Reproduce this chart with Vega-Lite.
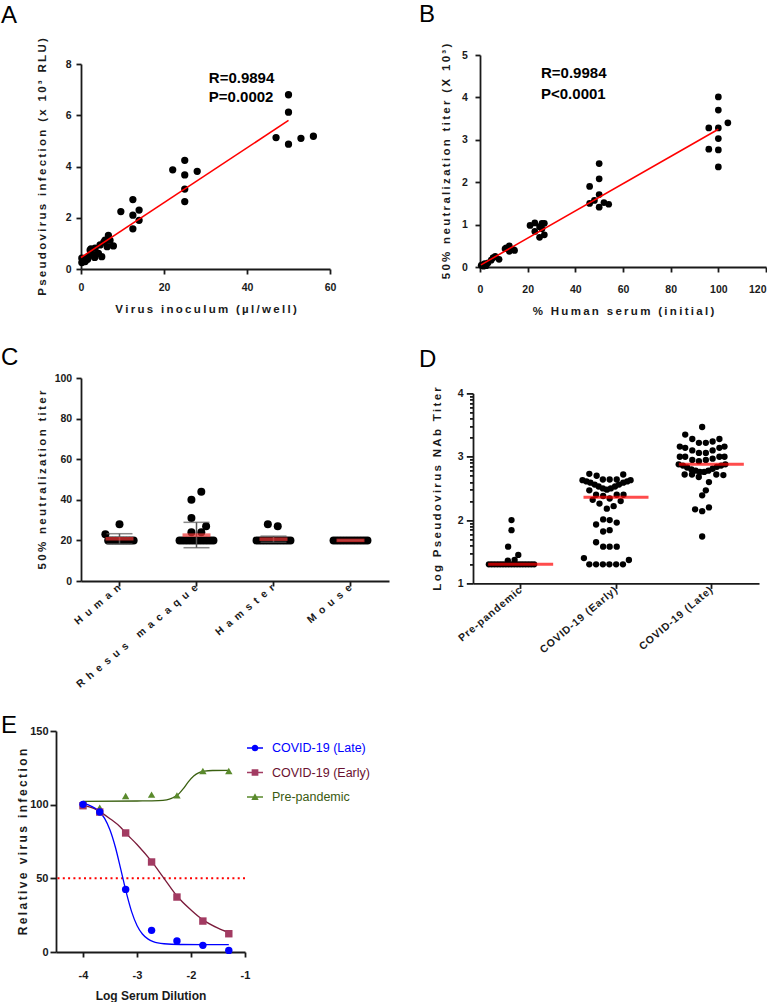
{
  "$schema": "https://vega.github.io/schema/vega-lite/v6.json",
  "padding": {"left": 1, "top": 3, "right": 0, "bottom": 0},
  "background": "white",
  "datasets": {
    "a": [{"inoculum":0.2,"infection":0.25},{"inoculum":0.2,"infection":0.42},{"inoculum":0.55,"infection":0.35},{"inoculum":1.0,"infection":0.29},{"inoculum":1.6,"infection":0.38},{"inoculum":1.8,"infection":0.48},{"inoculum":2.2,"infection":0.74},{"inoculum":2.4,"infection":0.78},{"inoculum":3.0,"infection":0.55},{"inoculum":3.3,"infection":0.45},{"inoculum":3.4,"infection":0.81},{"inoculum":4.2,"infection":0.61},{"inoculum":4.6,"infection":0.94},{"inoculum":5.0,"infection":0.48},{"inoculum":5.5,"infection":1.05},{"inoculum":5.8,"infection":1.13},{"inoculum":6.3,"infection":0.87},{"inoculum":6.6,"infection":1.31},{"inoculum":7.0,"infection":1.12},{"inoculum":7.8,"infection":0.9},{"inoculum":9.6,"infection":2.24},{"inoculum":12.5,"infection":2.71},{"inoculum":12.5,"infection":2.1},{"inoculum":12.5,"infection":1.57},{"inoculum":14,"infection":2.3},{"inoculum":14,"infection":1.9},{"inoculum":22.1,"infection":3.87},{"inoculum":25,"infection":4.24},{"inoculum":25,"infection":3.67},{"inoculum":25,"infection":3.12},{"inoculum":25,"infection":2.63},{"inoculum":28,"infection":3.81},{"inoculum":47,"infection":5.13},{"inoculum":50,"infection":6.8},{"inoculum":50,"infection":6.12},{"inoculum":50,"infection":4.87},{"inoculum":53,"infection":5.1},{"inoculum":56,"infection":5.18}],
    "a_fit": [{"inoculum":0,"infection":0.45},{"inoculum":50,"infection":5.8}],
    "b": [{"serum":100,"titer":4.01},{"serum":100,"titer":3.7},{"serum":104,"titer":3.4},{"serum":96,"titer":3.28},{"serum":100,"titer":3.28},{"serum":100,"titer":3.03},{"serum":96,"titer":2.78},{"serum":100,"titer":2.76},{"serum":100,"titer":2.36},{"serum":50,"titer":2.44},{"serum":50,"titer":2.08},{"serum":46,"titer":1.9},{"serum":50,"titer":1.71},{"serum":48,"titer":1.57},{"serum":46,"titer":1.5},{"serum":52,"titer":1.52},{"serum":54,"titer":1.48},{"serum":50,"titer":1.41},{"serum":21,"titer":0.98},{"serum":23,"titer":1.04},{"serum":26,"titer":1.03},{"serum":27,"titer":1.03},{"serum":23,"titer":0.84},{"serum":25,"titer":0.7},{"serum":27,"titer":0.76},{"serum":26,"titer":0.9},{"serum":25,"titer":0.95},{"serum":10.5,"titer":0.43},{"serum":12.3,"titer":0.5},{"serum":12.3,"titer":0.37},{"serum":14,"titer":0.41},{"serum":14.5,"titer":0.39},{"serum":11,"titer":0.45},{"serum":6.4,"titer":0.25},{"serum":8,"titer":0.18},{"serum":4.7,"titer":0.16},{"serum":5.5,"titer":0.22},{"serum":3.4,"titer":0.1},{"serum":2,"titer":0.08},{"serum":1,"titer":0.05},{"serum":0.5,"titer":0.04},{"serum":2.6,"titer":0.03},{"serum":1.5,"titer":0.02}],
    "b_fit": [{"serum":0.4,"titer":0.05},{"serum":100,"titer":3.25}],
    "c_pts": [
      {"species":"Human","titer":20,"slot":-4},{"species":"Human","titer":20,"slot":-3},{"species":"Human","titer":20,"slot":-2},{"species":"Human","titer":20,"slot":-1},{"species":"Human","titer":20,"slot":0},{"species":"Human","titer":20,"slot":1},{"species":"Human","titer":20,"slot":2},{"species":"Human","titer":20,"slot":3},{"species":"Human","titer":20,"slot":4},{"species":"Human","titer":20,"slot":5},{"species":"Human","titer":23,"slot":-5},{"species":"Human","titer":28,"slot":0},
      {"species":"Rhesus macaque","titer":20,"slot":-6},{"species":"Rhesus macaque","titer":20,"slot":-5},{"species":"Rhesus macaque","titer":20,"slot":-4},{"species":"Rhesus macaque","titer":20,"slot":-3},{"species":"Rhesus macaque","titer":20,"slot":-2},{"species":"Rhesus macaque","titer":20,"slot":-1},{"species":"Rhesus macaque","titer":20,"slot":0},{"species":"Rhesus macaque","titer":20,"slot":1},{"species":"Rhesus macaque","titer":20,"slot":2},{"species":"Rhesus macaque","titer":20,"slot":3},{"species":"Rhesus macaque","titer":20,"slot":4},{"species":"Rhesus macaque","titer":20,"slot":5},{"species":"Rhesus macaque","titer":20,"slot":6},{"species":"Rhesus macaque","titer":24,"slot":-1.8},{"species":"Rhesus macaque","titer":24,"slot":1.7},{"species":"Rhesus macaque","titer":27,"slot":3.4},{"species":"Rhesus macaque","titer":31,"slot":-1.8},{"species":"Rhesus macaque","titer":40,"slot":-1.8},{"species":"Rhesus macaque","titer":44,"slot":1.7},
      {"species":"Hamster","titer":20,"slot":-6},{"species":"Hamster","titer":20,"slot":-5},{"species":"Hamster","titer":20,"slot":-4},{"species":"Hamster","titer":20,"slot":-3},{"species":"Hamster","titer":20,"slot":-2},{"species":"Hamster","titer":20,"slot":-1},{"species":"Hamster","titer":20,"slot":0},{"species":"Hamster","titer":20,"slot":1},{"species":"Hamster","titer":20,"slot":2},{"species":"Hamster","titer":20,"slot":3},{"species":"Hamster","titer":20,"slot":4},{"species":"Hamster","titer":20,"slot":5},{"species":"Hamster","titer":20,"slot":6},{"species":"Hamster","titer":28,"slot":-2},{"species":"Hamster","titer":27,"slot":1.5},
      {"species":"Mouse","titer":20,"slot":-6},{"species":"Mouse","titer":20,"slot":-5},{"species":"Mouse","titer":20,"slot":-4},{"species":"Mouse","titer":20,"slot":-3},{"species":"Mouse","titer":20,"slot":-2},{"species":"Mouse","titer":20,"slot":-1},{"species":"Mouse","titer":20,"slot":0},{"species":"Mouse","titer":20,"slot":1},{"species":"Mouse","titer":20,"slot":2},{"species":"Mouse","titer":20,"slot":3},{"species":"Mouse","titer":20,"slot":4},{"species":"Mouse","titer":20,"slot":5},{"species":"Mouse","titer":20,"slot":6}
    ],
    "c_sum": [{"species":"Human","mean":20.8,"lo":18.3,"hi":23.3},{"species":"Rhesus macaque","mean":22.6,"lo":16.4,"hi":28.9},{"species":"Hamster","mean":20.6,"lo":19.1,"hi":22.1},{"species":"Mouse","mean":20,"lo":20,"hi":20}],
    "d_pts": [
      {"group":"Pre-pandemic","log_titer":1.301,"slot":-8},{"group":"Pre-pandemic","log_titer":1.301,"slot":-7},{"group":"Pre-pandemic","log_titer":1.301,"slot":-6},{"group":"Pre-pandemic","log_titer":1.301,"slot":-5},{"group":"Pre-pandemic","log_titer":1.301,"slot":-4},{"group":"Pre-pandemic","log_titer":1.301,"slot":-3},{"group":"Pre-pandemic","log_titer":1.301,"slot":-2},{"group":"Pre-pandemic","log_titer":1.301,"slot":-1},{"group":"Pre-pandemic","log_titer":1.301,"slot":0},{"group":"Pre-pandemic","log_titer":1.301,"slot":1},{"group":"Pre-pandemic","log_titer":1.301,"slot":2},{"group":"Pre-pandemic","log_titer":1.301,"slot":3},{"group":"Pre-pandemic","log_titer":1.301,"slot":4},{"group":"Pre-pandemic","log_titer":1.301,"slot":5},{"group":"Pre-pandemic","log_titer":1.301,"slot":6},{"group":"Pre-pandemic","log_titer":1.301,"slot":7},{"group":"Pre-pandemic","log_titer":1.301,"slot":8},
      {"group":"Pre-pandemic","log_titer":1.36,"slot":-1.3},{"group":"Pre-pandemic","log_titer":1.37,"slot":1.1},{"group":"Pre-pandemic","log_titer":1.45,"slot":2.4},{"group":"Pre-pandemic","log_titer":1.58,"slot":-1.2},{"group":"Pre-pandemic","log_titer":1.84,"slot":0},{"group":"Pre-pandemic","log_titer":2.0,"slot":0},
      {"group":"COVID-19 (Early)","log_titer":1.301,"slot":-6.2},{"group":"COVID-19 (Early)","log_titer":1.301,"slot":-3.8},{"group":"COVID-19 (Early)","log_titer":1.301,"slot":-1.4},{"group":"COVID-19 (Early)","log_titer":1.301,"slot":0.9},{"group":"COVID-19 (Early)","log_titer":1.301,"slot":3.3},{"group":"COVID-19 (Early)","log_titer":1.301,"slot":5.7},
      {"group":"COVID-19 (Early)","log_titer":1.4,"slot":-8.1},{"group":"COVID-19 (Early)","log_titer":1.37,"slot":7.8},
      {"group":"COVID-19 (Early)","log_titer":1.65,"slot":-3.8},{"group":"COVID-19 (Early)","log_titer":1.58,"slot":-1.3},{"group":"COVID-19 (Early)","log_titer":1.58,"slot":1},{"group":"COVID-19 (Early)","log_titer":1.58,"slot":3.5},
      {"group":"COVID-19 (Early)","log_titer":1.93,"slot":-3.8},{"group":"COVID-19 (Early)","log_titer":2.01,"slot":-1.3},{"group":"COVID-19 (Early)","log_titer":2.0,"slot":1},{"group":"COVID-19 (Early)","log_titer":1.96,"slot":3.5},{"group":"COVID-19 (Early)","log_titer":1.82,"slot":-1.3},{"group":"COVID-19 (Early)","log_titer":1.84,"slot":1},
      {"group":"COVID-19 (Early)","log_titer":2.18,"slot":0},{"group":"COVID-19 (Early)","log_titer":2.22,"slot":2.4},{"group":"COVID-19 (Early)","log_titer":2.26,"slot":-2.6},{"group":"COVID-19 (Early)","log_titer":2.3,"slot":4.9},{"group":"COVID-19 (Early)","log_titer":2.32,"slot":-5},{"group":"COVID-19 (Early)","log_titer":2.34,"slot":1},{"group":"COVID-19 (Early)","log_titer":2.38,"slot":-1.3},{"group":"COVID-19 (Early)","log_titer":2.4,"slot":-3.8},{"group":"COVID-19 (Early)","log_titer":2.4,"slot":3.5},{"group":"COVID-19 (Early)","log_titer":2.4,"slot":5.9},{"group":"COVID-19 (Early)","log_titer":2.47,"slot":-6.2},
      {"group":"COVID-19 (Early)","log_titer":2.63,"slot":-8.6},{"group":"COVID-19 (Early)","log_titer":2.61,"slot":-7.2},{"group":"COVID-19 (Early)","log_titer":2.59,"slot":-5.8},{"group":"COVID-19 (Early)","log_titer":2.56,"slot":-4.3},{"group":"COVID-19 (Early)","log_titer":2.53,"slot":-2.9},{"group":"COVID-19 (Early)","log_titer":2.5,"slot":-1.4},{"group":"COVID-19 (Early)","log_titer":2.48,"slot":0},{"group":"COVID-19 (Early)","log_titer":2.5,"slot":1.4},{"group":"COVID-19 (Early)","log_titer":2.53,"slot":2.9},{"group":"COVID-19 (Early)","log_titer":2.56,"slot":4.3},{"group":"COVID-19 (Early)","log_titer":2.59,"slot":5.8},{"group":"COVID-19 (Early)","log_titer":2.61,"slot":7.2},{"group":"COVID-19 (Early)","log_titer":2.63,"slot":8.4},
      {"group":"COVID-19 (Early)","log_titer":2.73,"slot":-6.2},{"group":"COVID-19 (Early)","log_titer":2.7,"slot":-3.6},{"group":"COVID-19 (Early)","log_titer":2.64,"slot":-1.4},{"group":"COVID-19 (Early)","log_titer":2.64,"slot":1},{"group":"COVID-19 (Early)","log_titer":2.64,"slot":3.5},{"group":"COVID-19 (Early)","log_titer":2.72,"slot":5.8},
      {"group":"COVID-19 (Late)","log_titer":3.47,"slot":0},
      {"group":"COVID-19 (Late)","log_titer":3.35,"slot":-6},{"group":"COVID-19 (Late)","log_titer":3.28,"slot":-3.5},{"group":"COVID-19 (Late)","log_titer":3.22,"slot":-1.15},{"group":"COVID-19 (Late)","log_titer":3.22,"slot":1.3},{"group":"COVID-19 (Late)","log_titer":3.24,"slot":3.7},{"group":"COVID-19 (Late)","log_titer":3.28,"slot":6.1},
      {"group":"COVID-19 (Late)","log_titer":3.16,"slot":-7.9},{"group":"COVID-19 (Late)","log_titer":3.14,"slot":-6},{"group":"COVID-19 (Late)","log_titer":3.1,"slot":-3.5},{"group":"COVID-19 (Late)","log_titer":3.06,"slot":-1.15},{"group":"COVID-19 (Late)","log_titer":3.06,"slot":1.3},{"group":"COVID-19 (Late)","log_titer":3.1,"slot":3.7},{"group":"COVID-19 (Late)","log_titer":3.14,"slot":6.1},{"group":"COVID-19 (Late)","log_titer":3.16,"slot":7.9},
      {"group":"COVID-19 (Late)","log_titer":3.0,"slot":-7.9},{"group":"COVID-19 (Late)","log_titer":3.0,"slot":-6},{"group":"COVID-19 (Late)","log_titer":2.95,"slot":-3.5},{"group":"COVID-19 (Late)","log_titer":2.93,"slot":-1.15},{"group":"COVID-19 (Late)","log_titer":2.95,"slot":1.3},{"group":"COVID-19 (Late)","log_titer":2.97,"slot":3.7},{"group":"COVID-19 (Late)","log_titer":3.0,"slot":6.1},{"group":"COVID-19 (Late)","log_titer":3.0,"slot":7.9},
      {"group":"COVID-19 (Late)","log_titer":2.88,"slot":-8.3},{"group":"COVID-19 (Late)","log_titer":2.86,"slot":-6.8},{"group":"COVID-19 (Late)","log_titer":2.83,"slot":-5.3},{"group":"COVID-19 (Late)","log_titer":2.8,"slot":-3.8},{"group":"COVID-19 (Late)","log_titer":2.78,"slot":-2.3},{"group":"COVID-19 (Late)","log_titer":2.76,"slot":-0.8},{"group":"COVID-19 (Late)","log_titer":2.76,"slot":0.7},{"group":"COVID-19 (Late)","log_titer":2.78,"slot":2.2},{"group":"COVID-19 (Late)","log_titer":2.81,"slot":3.7},{"group":"COVID-19 (Late)","log_titer":2.84,"slot":5.2},{"group":"COVID-19 (Late)","log_titer":2.86,"slot":6.7},{"group":"COVID-19 (Late)","log_titer":2.88,"slot":8.2},
      {"group":"COVID-19 (Late)","log_titer":2.72,"slot":-6.2},{"group":"COVID-19 (Late)","log_titer":2.72,"slot":-3.6},{"group":"COVID-19 (Late)","log_titer":2.68,"slot":-1.2},{"group":"COVID-19 (Late)","log_titer":2.6,"slot":2.4},{"group":"COVID-19 (Late)","log_titer":2.72,"slot":5},{"group":"COVID-19 (Late)","log_titer":2.71,"slot":7.5},
      {"group":"COVID-19 (Late)","log_titer":2.47,"slot":1.3},{"group":"COVID-19 (Late)","log_titer":2.39,"slot":0},{"group":"COVID-19 (Late)","log_titer":2.2,"slot":2.4},{"group":"COVID-19 (Late)","log_titer":2.17,"slot":-2.5},{"group":"COVID-19 (Late)","log_titer":2.14,"slot":0},{"group":"COVID-19 (Late)","log_titer":1.74,"slot":0}
    ],
    "d_sum": [{"group":"Pre-pandemic","mean":1.301},{"group":"COVID-19 (Early)","mean":2.36},{"group":"COVID-19 (Late)","mean":2.88}],
    "e_pts": [
      {"series":"Pre-pandemic","log_dilution":-4,"infection":100.5},{"series":"Pre-pandemic","log_dilution":-3.69,"infection":98},{"series":"Pre-pandemic","log_dilution":-3.21,"infection":105.9},{"series":"Pre-pandemic","log_dilution":-2.73,"infection":106.8},{"series":"Pre-pandemic","log_dilution":-2.26,"infection":106.3},{"series":"Pre-pandemic","log_dilution":-1.78,"infection":122.8},{"series":"Pre-pandemic","log_dilution":-1.3,"infection":122.8},
      {"series":"COVID-19 (Early)","log_dilution":-4,"infection":99.3},{"series":"COVID-19 (Early)","log_dilution":-3.69,"infection":95},{"series":"COVID-19 (Early)","log_dilution":-3.21,"infection":80.8},{"series":"COVID-19 (Early)","log_dilution":-2.73,"infection":61.1},{"series":"COVID-19 (Early)","log_dilution":-2.26,"infection":37.3},{"series":"COVID-19 (Early)","log_dilution":-1.78,"infection":21},{"series":"COVID-19 (Early)","log_dilution":-1.3,"infection":12.4},
      {"series":"COVID-19 (Late)","log_dilution":-4,"infection":100.2},{"series":"COVID-19 (Late)","log_dilution":-3.69,"infection":95},{"series":"COVID-19 (Late)","log_dilution":-3.21,"infection":42.5},{"series":"COVID-19 (Late)","log_dilution":-2.73,"infection":14.7},{"series":"COVID-19 (Late)","log_dilution":-2.26,"infection":7.5},{"series":"COVID-19 (Late)","log_dilution":-1.78,"infection":4.5},{"series":"COVID-19 (Late)","log_dilution":-1.3,"infection":1.1}
    ],
    "e_fit": [
      {"series":"Pre-pandemic","log_dilution":-4,"infection":102.3},{"series":"Pre-pandemic","log_dilution":-3.0,"infection":102.5},{"series":"Pre-pandemic","log_dilution":-2.6,"infection":102.7},{"series":"Pre-pandemic","log_dilution":-2.45,"infection":103.3},{"series":"Pre-pandemic","log_dilution":-2.35,"infection":104.5},{"series":"Pre-pandemic","log_dilution":-2.25,"infection":106.5},{"series":"Pre-pandemic","log_dilution":-2.15,"infection":110.5},{"series":"Pre-pandemic","log_dilution":-2.05,"infection":115.5},{"series":"Pre-pandemic","log_dilution":-1.95,"infection":119.5},{"series":"Pre-pandemic","log_dilution":-1.85,"infection":121.8},{"series":"Pre-pandemic","log_dilution":-1.75,"infection":122.8},{"series":"Pre-pandemic","log_dilution":-1.6,"infection":123.2},{"series":"Pre-pandemic","log_dilution":-1.3,"infection":123.3},
      {"series":"COVID-19 (Early)","log_dilution":-4,"infection":99.5},{"series":"COVID-19 (Early)","log_dilution":-3.8,"infection":97.5},{"series":"COVID-19 (Early)","log_dilution":-3.69,"infection":95.3},{"series":"COVID-19 (Early)","log_dilution":-3.5,"infection":90.5},{"series":"COVID-19 (Early)","log_dilution":-3.3,"infection":84.5},{"series":"COVID-19 (Early)","log_dilution":-3.21,"infection":80.8},{"series":"COVID-19 (Early)","log_dilution":-3.0,"infection":73},{"series":"COVID-19 (Early)","log_dilution":-2.73,"infection":61.5},{"series":"COVID-19 (Early)","log_dilution":-2.5,"infection":50},{"series":"COVID-19 (Early)","log_dilution":-2.26,"infection":38},{"series":"COVID-19 (Early)","log_dilution":-2.0,"infection":28.5},{"series":"COVID-19 (Early)","log_dilution":-1.78,"infection":21.8},{"series":"COVID-19 (Early)","log_dilution":-1.5,"infection":16.2},{"series":"COVID-19 (Early)","log_dilution":-1.3,"infection":13.2},
      {"series":"COVID-19 (Late)","log_dilution":-4,"infection":100.8},{"series":"COVID-19 (Late)","log_dilution":-3.85,"infection":99},{"series":"COVID-19 (Late)","log_dilution":-3.7,"infection":95.4},{"series":"COVID-19 (Late)","log_dilution":-3.6,"infection":90.7},{"series":"COVID-19 (Late)","log_dilution":-3.5,"infection":82.8},{"series":"COVID-19 (Late)","log_dilution":-3.4,"infection":71.1},{"series":"COVID-19 (Late)","log_dilution":-3.3,"infection":56.1},{"series":"COVID-19 (Late)","log_dilution":-3.2,"infection":40.6},{"series":"COVID-19 (Late)","log_dilution":-3.1,"infection":27.4},{"series":"COVID-19 (Late)","log_dilution":-3.0,"infection":18},{"series":"COVID-19 (Late)","log_dilution":-2.9,"infection":12.2},{"series":"COVID-19 (Late)","log_dilution":-2.8,"infection":8.9},{"series":"COVID-19 (Late)","log_dilution":-2.7,"infection":7.0},{"series":"COVID-19 (Late)","log_dilution":-2.5,"infection":5.6},{"series":"COVID-19 (Late)","log_dilution":-2.2,"infection":5.1},{"series":"COVID-19 (Late)","log_dilution":-1.8,"infection":5.0},{"series":"COVID-19 (Late)","log_dilution":-1.3,"infection":5.0}
    ]
  },
  "concat": [
    {
      "concat": [
        {
          "vconcat": [
            {
              "width": 249, "height": 205,
              "title": {"text": "A", "offset": 10, "dx": -80},
              "layer": [
                {"data": {"name": "a"}, "mark": {"type": "point", "filled": true, "color": "#000", "size": 53, "opacity": 1},
                 "encoding": {
                   "x": {"field": "inoculum", "type": "quantitative", "scale": {"domain": [0, 60], "nice": false},
                         "axis": {"values": [0, 20, 40, 60], "title": "V\u2009i\u2009r\u2009u\u2009s\u2009 \u2009i\u2009n\u2009o\u2009c\u2009u\u2009l\u2009u\u2009m\u2009 \u2009(\u2009µ\u2009l\u2009/\u2009w\u2009e\u2009l\u2009l\u2009)", "titleY": 43, "labelPadding": 8.7}},
                   "y": {"field": "infection", "type": "quantitative", "scale": {"domain": [0, 8], "nice": false},
                         "axis": {"values": [0, 2, 4, 6, 8], "title": "P\u2009s\u2009e\u2009u\u2009d\u2009o\u2009v\u2009i\u2009r\u2009u\u2009s\u2009 \u2009i\u2009n\u2009f\u2009e\u2009c\u2009t\u2009i\u2009o\u2009n\u2009 \u2009(\u2009x\u2009 \u20091\u20090\u2009³\u2009 \u2009R\u2009L\u2009U\u2009)", "titleX": -36, "labelPadding": 5}}
                 }},
                {"data": {"name": "a_fit"}, "mark": {"type": "line", "color": "#ff0000", "strokeWidth": 1.6},
                 "encoding": {"x": {"field": "inoculum", "type": "quantitative"}, "y": {"field": "infection", "type": "quantitative"}}},
                {"data": {"values": [{}]}, "mark": {"type": "text", "text": ["R=0.9894", "P=0.0002"], "align": "left", "baseline": "alphabetic", "fontSize": 15, "fontWeight": "bold", "lineHeight": 19, "color": "#000", "font": "Liberation Sans"},
                 "encoding": {"x": {"datum": 30.8}, "y": {"datum": 7.27}}}
              ]
            },
            {
              "width": 308, "height": 203,
              "title": {"text": "C", "offset": 3, "dx": -80},
              "layer": [
                {"data": {"name": "c_pts"}, "mark": {"type": "point", "filled": true, "color": "#000", "size": 64, "opacity": 1},
                 "encoding": {
                   "x": {"field": "species", "type": "nominal", "scale": {"type": "band", "domain": ["Human", "Rhesus macaque", "Hamster", "Mouse"], "paddingInner": 0, "paddingOuter": 0},
                         "axis": {"title": null, "labelAngle": -40, "labelAlign": "right", "labelBaseline": "middle", "labelPadding": 0, "labelExpr": "join(split(datum.label, ''), '\u2002')"}},
                   "xOffset": {"field": "slot", "type": "quantitative", "scale": {"domain": [-11, 11], "range": [0, 77]}},
                   "y": {"field": "titer", "type": "quantitative", "scale": {"domain": [0, 100], "nice": false},
                         "axis": {"values": [0, 20, 40, 60, 80, 100], "title": "5\u20090\u2009%\u2009 \u2009n\u2009e\u2009u\u2009t\u2009r\u2009a\u2009l\u2009i\u2009z\u2009a\u2009t\u2009i\u2009o\u2009n\u2009 \u2009t\u2009i\u2009t\u2009e\u2009r", "titleX": -36, "labelPadding": 4.3}}
                 }},
                {"data": {"name": "c_sum"}, "mark": {"type": "rule", "color": "#555", "strokeWidth": 1.5},
                 "encoding": {"x": {"field": "species", "type": "nominal"}, "y": {"field": "lo", "type": "quantitative"}, "y2": {"field": "hi"}}},
                {"data": {"name": "c_sum"}, "mark": {"type": "tick", "color": "#555", "size": 26, "thickness": 1.5},
                 "encoding": {"x": {"field": "species", "type": "nominal"}, "y": {"field": "lo", "type": "quantitative"}}},
                {"data": {"name": "c_sum"}, "mark": {"type": "tick", "color": "#555", "size": 26, "thickness": 1.5},
                 "encoding": {"x": {"field": "species", "type": "nominal"}, "y": {"field": "hi", "type": "quantitative"}}},
                {"data": {"name": "c_sum"}, "mark": {"type": "tick", "color": "#ee3333", "size": 28, "thickness": 3.5},
                 "encoding": {"x": {"field": "species", "type": "nominal"}, "y": {"field": "mean", "type": "quantitative"}}}
              ]
            }
          ],
          "spacing": 109,
          "bounds": "flush"
        },
        {
          "concat": [
            {"width": 1, "height": 1, "data": {"values": []}, "mark": {"type": "point"}},
            {
              "width": 189, "height": 221,
              "title": {"text": "E", "offset": -13, "dx": -55},
              "layer": [
                {"data": {"values": [{}]}, "mark": {"type": "rule", "color": "#ff0000", "strokeDash": [2, 3.3], "strokeWidth": 2},
                 "encoding": {"y": {"datum": 50}}},
                {"data": {"name": "e_fit"}, "mark": {"type": "line", "strokeWidth": 1.3, "interpolate": "monotone"},
                 "encoding": {
                   "x": {"field": "log_dilution", "type": "quantitative", "scale": {"domain": [-4.5, -1], "nice": false},
                         "axis": {"values": [-4, -3, -2, -1], "title": "Log Serum Dilution", "titleFontSize": 12, "titleY": 47.2, "labelPadding": 12, "labelFontSize": 11, "labelExpr": "'-' + abs(datum.value)"}},
                   "y": {"field": "infection", "type": "quantitative", "scale": {"domain": [0, 150], "nice": false},
                         "axis": {"values": [0, 50, 100, 150], "title": "R\u2009e\u2009l\u2009a\u2009t\u2009i\u2009v\u2009e\u2009 \u2009v\u2009i\u2009r\u2009u\u2009s\u2009 \u2009i\u2009n\u2009f\u2009e\u2009c\u2009t\u2009i\u2009o\u2009n", "titleFontSize": 12, "titleX": -29.5, "labelPadding": 2, "tickSize": 6, "labelFontSize": 11}},
                   "color": {"field": "series", "type": "nominal", "scale": {"domain": ["COVID-19 (Late)", "COVID-19 (Early)", "Pre-pandemic"], "range": ["#0000ff", "#7a1a3a", "#3a6010"]}, "legend": null}
                 }},
                {"data": {"name": "e_pts"}, "mark": {"type": "point", "filled": true, "size": 55, "opacity": 1},
                 "encoding": {
                   "x": {"field": "log_dilution", "type": "quantitative"},
                   "y": {"field": "infection", "type": "quantitative"},
                   "color": {"field": "series", "type": "nominal", "scale": {"domain": ["COVID-19 (Late)", "COVID-19 (Early)", "Pre-pandemic"], "range": ["#0000ff", "#a23b62", "#5a8a2c"]}, "legend": null},
                   "shape": {"field": "series", "type": "nominal", "scale": {"domain": ["COVID-19 (Late)", "COVID-19 (Early)", "Pre-pandemic"], "range": ["circle", "square", "triangle-up"]}, "legend": null}
                 }},
                {"data": {"name": "e_pts"}, "mark": {"type": "point", "filled": true, "size": 0, "opacity": 1},
                 "encoding": {
                   "x": {"field": "log_dilution", "type": "quantitative"},
                   "y": {"field": "infection", "type": "quantitative"},
                   "color": {"field": "series", "type": "nominal", "scale": {"domain": ["COVID-19 (Late)", "COVID-19 (Early)", "Pre-pandemic"], "range": ["#0000ff", "#a23b62", "#5a8a2c"]},
                             "legend": {"orient": "none", "legendX": 191, "legendY": 9, "title": null, "symbolSize": 256, "labelFontSize": 12.5, "labelFont": "Liberation Sans", "labelFontWeight": "normal", "labelOffset": 9, "rowPadding": 9.5, "padding": 0, "symbolStrokeWidth": 0,
                                        "labelColor": {"expr": "datum.label == 'COVID-19 (Late)' ? '#0000ff' : datum.label == 'COVID-19 (Early)' ? '#6a1030' : '#3a5a10'"}}},
                   "shape": {"field": "series", "type": "nominal", "scale": {"domain": ["COVID-19 (Late)", "COVID-19 (Early)", "Pre-pandemic"], "range": ["M-1,-0.09H1V0.09H-1Z M0.42,0A0.42,0.42 0 1,1 -0.42,0A0.42,0.42 0 1,1 0.42,0Z", "M-1,-0.09H1V0.09H-1Z M-0.42,-0.42H0.42V0.42H-0.42Z", "M-1,-0.09H1V0.09H-1Z M0,-0.48L0.46,0.36H-0.46Z"]},
                             "legend": {"orient": "none", "legendX": 191, "legendY": 9, "title": null, "symbolSize": 256, "labelFontSize": 12.5, "labelFont": "Liberation Sans", "labelFontWeight": "normal", "labelOffset": 9, "rowPadding": 9.5, "padding": 0, "symbolStrokeWidth": 0,
                                        "labelColor": {"expr": "datum.label == 'COVID-19 (Late)' ? '#0000ff' : datum.label == 'COVID-19 (Early)' ? '#6a1030' : '#3a5a10'"}}}
                 }}
              ],
              "resolve": {"scale": {"color": "independent", "shape": "independent"}}
            }
          ],
          "columns": 2,
          "align": "none",
          "spacing": -81,
          "bounds": "full"
        }
      ],
      "columns": 1,
      "align": "none",
      "spacing": 24,
      "bounds": "full"
    },
    {
      "concat": [
        {"width": 1, "height": 1, "data": {"values": []}, "mark": {"type": "point"}},
        {
          "concat": [
            {
              "width": 286, "height": 212,
              "title": {"text": "B", "offset": 16, "dx": -61},
              "layer": [
                {"data": {"name": "b"}, "mark": {"type": "point", "filled": true, "color": "#000", "size": 45, "opacity": 1},
                 "encoding": {
                   "x": {"field": "serum", "type": "quantitative", "scale": {"domain": [0, 120], "nice": false},
                         "axis": {"values": [0, 20, 40, 60, 80, 100, 120], "title": "%\u2009 \u2009H\u2009u\u2009m\u2009a\u2009n\u2009 \u2009s\u2009e\u2009r\u2009u\u2009m\u2009 \u2009(\u2009i\u2009n\u2009i\u2009t\u2009i\u2009a\u2009l\u2009)", "titleY": 47.8, "labelPadding": 12,
                                  "labelAlign": {"condition": {"test": "datum.value == 120", "value": "right"}, "value": "center"}}},
                   "y": {"field": "titer", "type": "quantitative", "scale": {"domain": [0, 5], "nice": false},
                         "axis": {"values": [0, 1, 2, 3, 4, 5], "title": "5\u20090\u2009%\u2009 \u2009n\u2009e\u2009u\u2009t\u2009r\u2009a\u2009l\u2009i\u2009z\u2009a\u2009t\u2009i\u2009o\u2009n\u2009 \u2009t\u2009i\u2009t\u2009e\u2009r\u2009 \u2009(\u2009X\u2009 \u20091\u20090\u2009³\u2009)", "titleX": -30.7, "labelPadding": 7.7}}
                 }},
                {"data": {"name": "b_fit"}, "mark": {"type": "line", "color": "#ff0000", "strokeWidth": 1.6},
                 "encoding": {"x": {"field": "serum", "type": "quantitative"}, "y": {"field": "titer", "type": "quantitative"}}},
                {"data": {"values": [{}]}, "mark": {"type": "text", "text": ["R=0.9984", "P<0.0001"], "align": "left", "baseline": "alphabetic", "fontSize": 15, "fontWeight": "bold", "lineHeight": 21, "color": "#000", "font": "Liberation Sans"},
                 "encoding": {"x": {"datum": 25.6}, "y": {"datum": 4.45}}}
              ]
            },
            {
              "concat": [
                {"width": 1, "height": 1, "data": {"values": []}, "mark": {"type": "point"}},
                {
                  "width": 286, "height": 190,
                  "title": {"text": "D", "offset": 14.6, "dx": -54},
                  "layer": [
                    {"data": {"name": "d_pts"}, "mark": {"type": "point", "filled": true, "color": "#000", "size": 40, "opacity": 1},
                     "encoding": {
                       "x": {"field": "group", "type": "nominal", "scale": {"type": "band", "domain": ["Pre-pandemic", "COVID-19 (Early)", "COVID-19 (Late)"], "paddingInner": 0, "paddingOuter": 0},
                             "axis": {"title": null, "labelAngle": -40, "labelAlign": "right", "labelBaseline": "middle", "labelPadding": 0, "labelExpr": "join(split(datum.label, ''), '\u200a')"}},
                       "xOffset": {"field": "slot", "type": "quantitative", "scale": {"domain": [-13.62, 13.62], "range": [0, 95.33]}},
                       "y": {"field": "log_titer", "type": "quantitative", "scale": {"domain": [1, 4], "nice": false},
                             "axis": {"values": [1, 2, 3, 4], "title": "L\u2009o\u2009g\u2009 \u2009P\u2009s\u2009e\u2009u\u2009d\u2009o\u2009v\u2009i\u2009r\u2009u\u2009s\u2009 \u2009N\u2009A\u2009b\u2009 \u2009T\u2009i\u2009t\u2009e\u2009r", "titleX": -33, "labelPadding": 3.3, "tickSize": 6.7}}
                     }},
                    {"data": {"name": "d_sum"}, "mark": {"type": "tick", "color": "#ff0000", "size": 65, "thickness": 3},
                     "encoding": {
                       "x": {"field": "group", "type": "nominal"},
                       "y": {"field": "mean", "type": "quantitative",
                             "axis": {"orient": "left", "values": [1.301, 1.477, 1.602, 1.699, 1.778, 1.845, 1.903, 1.954, 2.301, 2.477, 2.602, 2.699, 2.778, 2.845, 2.903, 2.954, 3.301, 3.477, 3.602, 3.699, 3.778, 3.845, 3.903, 3.954], "labels": false, "domain": false, "title": null, "tickSize": 3.5}}
                     }}
                  ],
                  "resolve": {"axis": {"y": "independent"}}
                }
              ],
              "columns": 2,
              "align": "none",
              "spacing": -62,
              "bounds": "full"
            }
          ],
          "columns": 1,
          "align": "none",
          "spacing": 29.4,
          "bounds": "full"
        }
      ],
      "columns": 1,
      "align": "none",
      "spacing": -62,
      "bounds": "full"
    }
  ],
  "columns": 2,
  "align": "none",
  "spacing": 30,
  "bounds": "full",
  "config": {
    "view": {"stroke": null},
    "font": "Liberation Sans",
    "axis": {
      "domainColor": "#1a1a1a", "domainWidth": 1.8, "tickColor": "#1a1a1a", "tickWidth": 1.8, "tickSize": 5,
      "labelFont": "Liberation Sans", "labelFontWeight": "bold", "labelFontSize": 10.5, "labelColor": "#1a1a1a",
      "titleFont": "Liberation Sans", "titleFontWeight": "bold", "titleFontSize": 11.5, "titleColor": "#1a1a1a",
      "grid": false, "labelFlush": false, "labelOverlap": false, "labelBound": false, "titleBaseline": "alphabetic"
    },
    "title": {"font": "Liberation Sans", "fontSize": 24, "fontWeight": "normal", "anchor": "start", "frame": "group", "baseline": "alphabetic", "color": "#000"}
  }
}
